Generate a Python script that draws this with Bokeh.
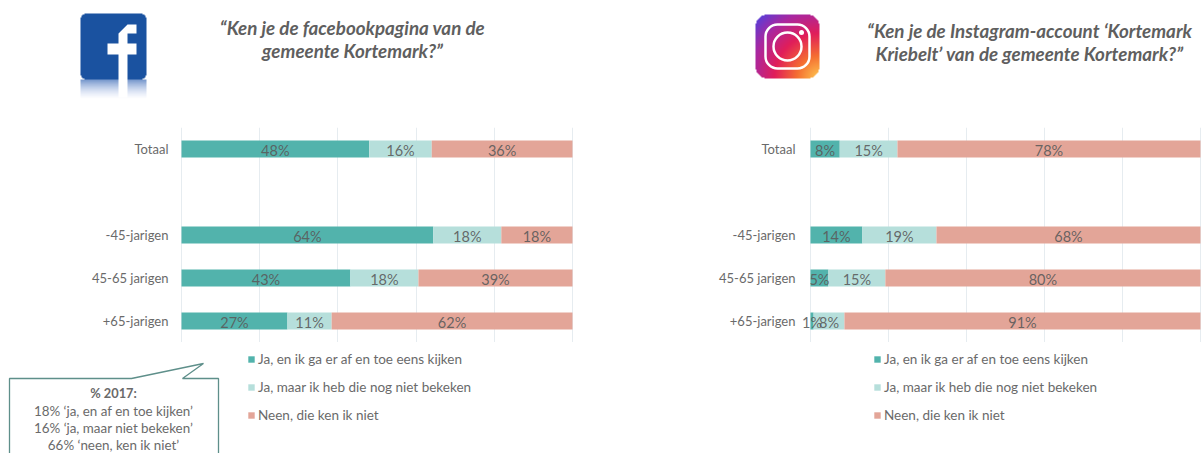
import numpy as np
from bokeh.plotting import figure
from bokeh.layouts import column, row
from bokeh.models import ColumnDataSource, FactorRange, Range1d, Legend, LegendItem
from bokeh.core.properties import value
from bokeh.embed import file_html
from bokeh.resources import INLINE

categories = ["Totaal", "-45-jarigen", "45-65 jarigen", "+65-jarigen"]
axis_factors = ["+65-jarigen", "45-65 jarigen", "-45-jarigen", " ", "Totaal"]
series_names = ["Ja, en ik ga er af en toe eens kijken",
                "Ja, maar ik heb die nog niet bekeken",
                "Neen, die ken ik niet"]

fb_ja_kijken = [48.0, 64.4, 43.2, 27.1]
fb_ja_niet = [16.0, 17.4, 17.4, 11.3]
fb_neen = [36.0, 18.2, 39.4, 61.6]
fb_labels = [["48%", "64%", "43%", "27%"], ["16%", "18%", "18%", "11%"], ["36%", "18%", "39%", "62%"]]

ig_ja_kijken = [7.5, 13.3, 4.6, 0.8]
ig_ja_niet = [14.8, 19.0, 14.6, 7.9]
ig_neen = [77.7, 67.7, 80.8, 91.3]
ig_labels = [["8%", "14%", "5%", "1%"], ["15%", "19%", "15%", "8%"], ["78%", "68%", "80%", "91%"]]

title_fb = ["“Ken je de facebookpagina van de", "gemeente Kortemark?”"]
title_ig = ["“Ken je de Instagram-account ‘Kortemark", "Kriebelt’ van de gemeente Kortemark?”"]
note_title = "% 2017:"
note_lines = ["18% ‘ja, en af en toe kijken’", "16% ‘ja, maar niet bekeken’", "66% ‘neen, ken ik niet’"]

COLORS = ["#52B3AC", "#B6DFDB", "#E3A598"]
TXT = "#6A6A6A"
FONT = "Lato"
ticks = [0, 20, 40, 60, 80, 100]

H_HEAD = 127
H_CHART = 215
H_FOOT = 111


def rounded_mask(n, r):
    yy, xx = np.mgrid[0:n, 0:n] + 0.5
    dx = np.maximum(np.maximum(r - xx, xx - (n - r)), 0)
    dy = np.maximum(np.maximum(r - yy, yy - (n - r)), 0)
    return (dx * dx + dy * dy) <= r * r


def to_rgba(arr):
    h, w, _ = arr.shape
    img = np.zeros((h, w), dtype=np.uint32)
    view = img.view(dtype=np.uint8).reshape((h, w, 4))
    view[:, :, :] = arr
    return img


def chart(width, left, right, x0, x1, standoff, vals, labels):
    p = figure(width=width, height=H_CHART, x_range=Range1d(x0, x1),
               y_range=FactorRange(factors=axis_factors),
               output_backend="svg", toolbar_location=None,
               min_border_left=left, min_border_right=right, min_border_top=0,
               min_border_bottom=0, outline_line_color=None,
               background_fill_color="white", border_fill_color="white")
    p.xaxis.visible = False
    p.yaxis.axis_line_color = None
    p.yaxis.major_tick_line_color = None
    p.yaxis.minor_tick_line_color = None
    p.yaxis.major_label_text_font = FONT
    p.yaxis.major_label_text_font_size = "13px"
    p.yaxis.major_label_text_color = TXT
    p.yaxis.major_label_standoff = standoff
    p.ygrid.visible = False
    p.xgrid.ticker = ticks
    p.xgrid.grid_line_color = "#E6ECF0"
    p.xgrid.grid_line_width = 1

    src = ColumnDataSource(dict(cat=categories, a=vals[0], b=vals[1], c=vals[2]))
    p.hbar_stack(["a", "b", "c"], y="cat", height=0.39, color=COLORS, source=src, line_width=0)

    start = np.zeros(len(categories))
    for k, v in enumerate(vals):
        v = np.array(v)
        p.text(x=start + v / 2, y=categories, text=labels[k], text_align="center",
               text_baseline="middle", text_font=value(FONT), text_font_size="14.5px",
               text_color="#5A5A5A", text_alpha=0.9, y_offset=1)
        start = start + v
    return p


def pixel_figure(height, y0):
    p = figure(width=1201, height=height, x_range=Range1d(0, 1201), y_range=Range1d(y0 + height, y0),
               output_backend="svg", toolbar_location=None, min_border=0,
               outline_line_color=None, border_fill_color="white")
    p.axis.visible = False
    p.grid.visible = False
    return p


# header: logos and questions
head = pixel_figure(H_HEAD, 0)

n = 66
fb = np.zeros((n + 20, n, 4), dtype=np.uint8)
fb[:n, :, :3] = (26, 82, 160)
fb[:n, :, 3] = rounded_mask(n, 6) * 255
refl = np.linspace(0.55, 0, 20)[:, None]
fb[n:, :, 0] = 26 + (1 - refl) * 160
fb[n:, :, 1] = 82 + (1 - refl) * 120
fb[n:, :, 2] = 160 + (1 - refl) * 80
fb[n:, :, 3] = (refl * 400).clip(0, 255)
head.image_rgba(image=[to_rgba(fb)], x=80, y=13, dw=66, dh=86)
head.patch([118, 118, 107, 107, 118, 118, 127, 136, 136, 127, 127, 136, 136, 127, 127],
           [97, 54, 54, 43, 43, 33, 24, 24, 33, 33, 43, 43, 54, 54, 97],
           fill_color="white", line_color=None)

m = 64
yy, xx = np.mgrid[0:m, 0:m] / (m - 1)
d = np.hypot(xx - 1, yy - 1) / np.sqrt(2)
r = np.interp(d, [0, 0.25, 0.5, 0.75, 1], [255, 245, 225, 170, 75])
g = np.interp(d, [0, 0.25, 0.5, 0.75, 1], [200, 110, 30, 40, 65])
b = np.interp(d, [0, 0.25, 0.5, 0.75, 1], [80, 50, 90, 160, 225])
ig = np.dstack([r, g, b, rounded_mask(m, 12) * 255.0]).astype(np.uint8)
head.image_rgba(image=[to_rgba(ig)], x=755, y=14, dw=64, dh=64)
head.rect(x=[787], y=[46], width=[44], height=[44], fill_alpha=0, line_color="white",
          line_width=2.5, border_radius=12)
head.scatter(x=[787], y=[46], size=28, fill_alpha=0, line_color="white", line_width=2.5)
head.scatter(x=[801], y=[32], size=5, fill_color="white", line_color=None)

for (lines, cx, ys) in [(title_fb, 352, [27, 50]), (title_ig, 1029, [30, 53])]:
    head.text(x=[cx, cx], y=ys, text=lines, text_align="center", text_baseline="middle",
              text_font=value(FONT), text_font_style="bold italic", text_font_size="18.8px",
              text_color="#5F5F5F")

left = chart(600, 176, 23, -1.28, 101.28, 2, [fb_ja_kijken, fb_ja_niet, fb_neen], fb_labels)
right = chart(601, 197, 0, -3.33, 100.26, -4, [ig_ja_kijken, ig_ja_niet, ig_neen], ig_labels)

# footer: legends and the 2017 note
y0 = H_HEAD + H_CHART
foot = pixel_figure(H_FOOT, y0)
foot.patch([9, 131, 203, 182, 218, 218, 9], [378, 378, 363, 378, 378, 460, 460],
           fill_color="white", line_color="#5E8F8A", line_width=1.3)
foot.text(x=[113], y=[392], text=[note_title], text_align="center", text_baseline="middle",
          text_font=value(FONT), text_font_style="bold", text_font_size="12.8px", text_color=TXT)
foot.text(x=[113] * 3, y=[410, 427, 444], text=note_lines, text_align="center", text_baseline="middle",
          text_font=value(FONT), text_font_size="13.4px", text_color=TXT)
# one off-frame rect each, so that the legend has a swatch to draw
swatches = [foot.rect(x=[-50], y=[400], width=[1], height=[1], color=c, line_width=0) for c in COLORS]
for lx in (247, 873):
    leg = Legend(items=[LegendItem(label=n_, renderers=[r_]) for n_, r_ in zip(series_names, swatches)],
                 location=(lx, 29), background_fill_alpha=0, border_line_color=None,
                 glyph_width=8, glyph_height=8, label_text_font=FONT,
                 label_text_font_size="13.5px", label_text_color=TXT,
                 spacing=10, label_height=18, margin=0, padding=0, label_standoff=3)
    foot.add_layout(leg, "center")

page = column(head, row(left, right, spacing=0), foot, spacing=0)
open("out.html", "w").write(file_html(page, INLINE))
